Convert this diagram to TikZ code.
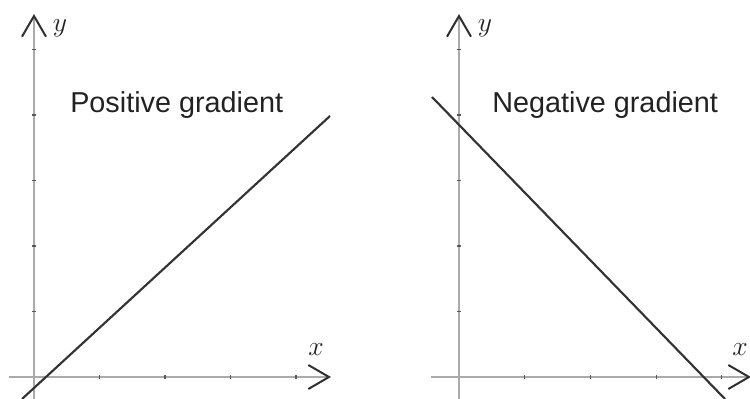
\documentclass[tikz,border=0pt]{standalone}
\usepackage{fontspec}
\setmainfont{Liberation Sans}
\usetikzlibrary{arrows.meta,calc}
\definecolor{axisgray}{HTML}{AAAAAA}
\definecolor{tipcol}{HTML}{303030}
\definecolor{linecol}{HTML}{333333}
\definecolor{textcol}{HTML}{222222}
\begin{document}
\begin{tikzpicture}[x=0.75pt,y=-0.75pt,
  axisline/.style={draw=axisgray, line width=1.9pt,
    -{Straight Barb[length=15.5pt,width=18pt,color=tipcol,line width=1.5pt]}},
  tickmark/.style={draw=tipcol!80, line width=0.8pt},
  graphline/.style={draw=linecol, line width=1.6pt},
  title/.style={text=textcol, font=\fontsize{21.6}{26}\selectfont, inner sep=0pt, anchor=base west},
  axlabel/.style={text=textcol, font=\fontsize{22}{26}\selectfont, inner sep=0pt}]
\useasboundingbox (0,0) rectangle (750,399);
% ---------- left panel ----------
\coordinate (LO) at (34,377);
\coordinate (LxS) at (9,377);
\coordinate (LxE) at (331,377);
\coordinate (LyS) at (34,400);
\coordinate (LyE) at (34,14);
\draw[axisline] (LxS) -- (LxE);
\draw[axisline] (LyS) -- (LyE);
\foreach \k in {1,...,4} \draw[tickmark] ($(LO)+(65.5*\k,-1.8)$) -- ++(0,3.6);
\foreach \k in {1,...,5} \draw[tickmark] ($(LO)+(-1.8,-65.5*\k)$) -- ++(3.6,0);
\coordinate (LA) at (22,399);
\coordinate (LB) at (330,116);
\draw[graphline] (LA) -- (LB);
\node[axlabel] (Ly) at (60,28) {$y$};
\node[axlabel] (Lx) at (316,350) {$x$};
\node[title] (Lt) at (70,113) {Positive gradient};
% ---------- right panel ----------
\coordinate (RO) at (459,377);
\coordinate (RxS) at (431,377);
\coordinate (RxE) at (751,377);
\coordinate (RyS) at (459,400);
\coordinate (RyE) at (459,14);
\draw[axisline] (RxS) -- (RxE);
\draw[axisline] (RyS) -- (RyE);
\foreach \k in {1,...,4} \draw[tickmark] ($(RO)+(65.7*\k,-1.8)$) -- ++(0,3.6);
\foreach \k in {1,...,5} \draw[tickmark] ($(RO)+(-1.8,-65.5*\k)$) -- ++(3.6,0);
\coordinate (RA) at (432,97);
\coordinate (RB) at (725,399);
\draw[graphline] (RA) -- (RB);
\node[axlabel] (Ry) at (485,28) {$y$};
\node[axlabel] (Rx) at (740,350) {$x$};
\node[title] (Rt) at (492,113) {Negative gradient};
\end{tikzpicture}
\end{document}
